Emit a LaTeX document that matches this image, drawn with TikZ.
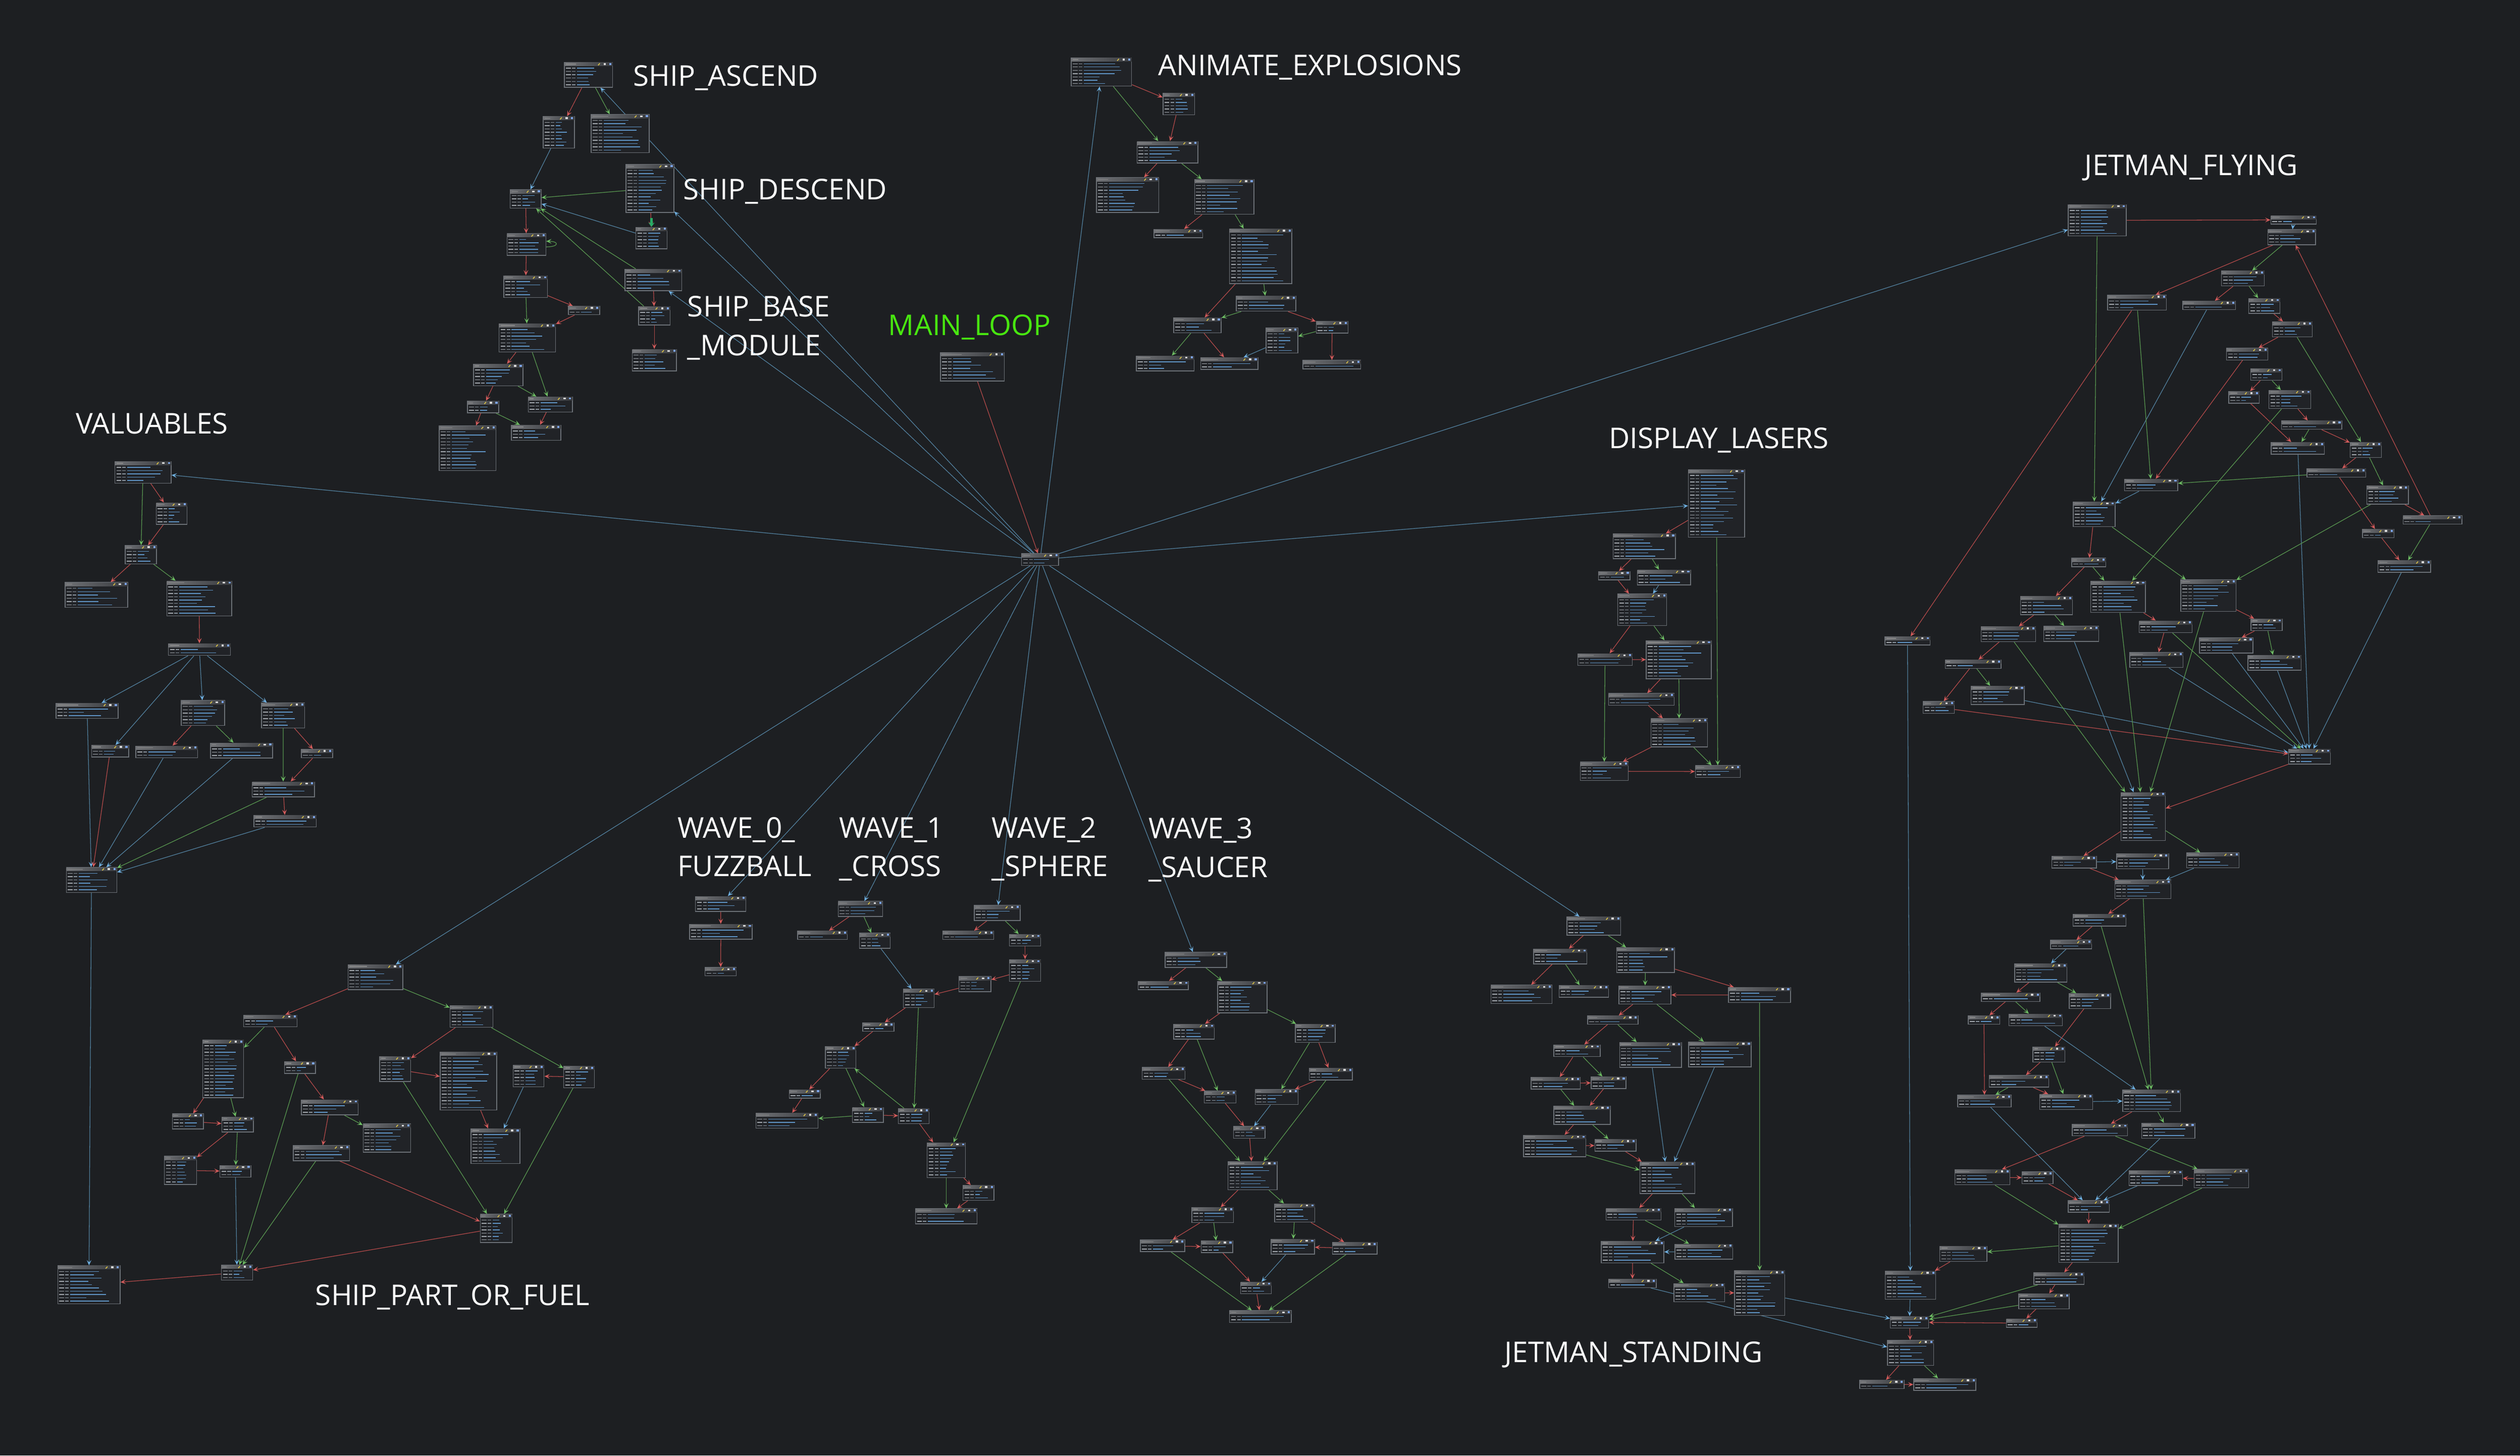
\documentclass[tikz,border=0pt]{standalone}
\usepackage{fontspec}
\setmainfont{Open Sans}
\usetikzlibrary{arrows.meta}

\definecolor{bgdark}{RGB}{29,31,34}
\definecolor{boxfill}{RGB}{33,35,39}
\definecolor{boxline}{RGB}{108,113,119}
\definecolor{hdrleft}{RGB}{112,114,118}
\definecolor{hdrright}{RGB}{56,58,62}
\definecolor{addrcol}{RGB}{165,170,176}
\definecolor{mnemcol}{RGB}{140,150,160}
\definecolor{opcol}{RGB}{96,150,200}
\definecolor{iconblue}{RGB}{125,165,235}
\definecolor{penyellow}{RGB}{225,200,70}
\definecolor{edgeblue}{RGB}{82,128,158}
\definecolor{edgered}{RGB}{178,74,74}
\definecolor{edgegreen}{RGB}{88,150,80}
\definecolor{tipblue}{RGB}{112,178,228}
\definecolor{tipred}{RGB}{212,92,92}
\definecolor{tipgreen}{RGB}{110,190,100}
\definecolor{loopgreen}{RGB}{72,230,16}
\definecolor{blobgreen}{RGB}{40,170,100}

\pgfdeclarelayer{background}
\pgfdeclarelayer{edgelayer}
\pgfsetlayers{background,edgelayer,main}

\tikzset{
  codebox/.style={draw=boxline, fill=boxfill, line width=0.45pt, inner sep=0pt, anchor=north west},
  hdrtext/.style={draw=white!55!black, line width=0.4pt},
  penicon/.style={draw=penyellow, line width=0.5pt},
  addrline/.style={draw=addrcol, line width=0.45pt},
  mnemline/.style={draw=mnemcol, line width=0.45pt},
  opline/.style={draw=opcol, line width=0.45pt},
  jmpedge/.style={-{Stealth[length=3.3pt,width=2.9pt,inset=1.5pt,color=tipblue]}, draw=edgeblue, line width=0.4pt},
  falseedge/.style={-{Stealth[length=3.3pt,width=2.9pt,inset=1.5pt,color=tipred]}, draw=edgered, line width=0.4pt},
  trueedge/.style={-{Stealth[length=3.3pt,width=2.9pt,inset=1.5pt,color=tipgreen]}, draw=edgegreen, line width=0.4pt},
  lbl/.style={text=white, font=\fontsize{17.8}{21}\selectfont, anchor=base west, inner sep=0pt},
}

% code block: name, x, y (top left), width, number of lines
\newcommand\codeblk[5]{%
  \pgfmathsetmacro\blkh{3.2+2.05*#5}%
  \node[codebox, minimum width=#4pt, minimum height=\blkh pt] (#1) at (#2,#3) {};
  \fill[left color=hdrleft, right color=hdrright] ([shift={(0.25pt,-0.25pt)}]#1.north west) rectangle ([shift={(-0.25pt,-2.4pt)}]#1.north east);
  \pgfmathsetmacro\hw{2+(#4-14)*0.45*rnd}%
  \draw[hdrtext] ([shift={(1.2pt,-1.3pt)}]#1.north west) -- ++(\hw pt,0);
  \draw[penicon] ([shift={(-9.2pt,-2.0pt)}]#1.north east) -- ++(1.1pt,1.2pt);
  \fill[white!85!black] ([shift={(-5.8pt,-0.7pt)}]#1.north east) rectangle ++(1.4pt,-1.1pt);
  \fill[iconblue] ([shift={(-2.3pt,-0.6pt)}]#1.north east) rectangle ++(1.3pt,-1.2pt);
  \foreach \i in {1,...,#5}{%
    \pgfmathsetmacro\ly{-1.8-2.05*\i}%
    \pgfmathsetmacro\lw{(#4-11)*(0.3+0.65*rnd)}%
    \draw[addrline] ([shift={(1.2pt,\ly pt)}]#1.north west) -- ++(3.0pt,0);
    \draw[mnemline] ([shift={(4.9pt,\ly pt)}]#1.north west) -- ++(2.2pt,0);
    \draw[opline] ([shift={(8.0pt,\ly pt)}]#1.north west) -- ++(\lw pt,0);
  }%
}

\begin{document}
\begin{tikzpicture}[x=1pt,y=-1pt]
  \pgfmathsetseed{7}
  \useasboundingbox (0,0) rectangle (1568,905.9);
  \begin{pgfonlayer}{background}
    \fill[bgdark] (0,0) rectangle (1568,905.9);
  \end{pgfonlayer}

  % main loop and switch
  \foreach \nm/\px/\py/\bw/\nlines in
{M/585.0/219.3/39.6/7,C/635.4/344.4/23.1/2}
    {\codeblk{\nm}{\px}{\py}{\bw}{\nlines}}

  % ship ascend / descend / base module
  \foreach \nm/\px/\py/\bw/\nlines in
{A1/351.0/38.6/29.9/6,A2/337.8/72.3/19.4/8,A3/367.6/71.1/36.1/10,D1/389.3/102.2/29.8/13,
 A4/317.2/117.9/19.3/4,D2/395.4/141.2/19.5/5,A5/315.2/145.2/24.2/5,A6/313.3/171.4/27.1/5,
 A7/353.4/190.4/19.5/1,B1/388.6/167.3/35.3/5,B2/397.1/190.6/19.6/4,B3/393.1/217.2/27.6/5,
 A8/310.3/201.3/35.1/7,A9/294.4/226.4/30.8/5,A10/290.6/249.4/19.5/2,A11/328.4/246.8/27.5/3,
 A12/273.1/264.9/35.2/12,A13/318.0/264.4/30.7/3}
    {\codeblk{\nm}{\px}{\py}{\bw}{\nlines}}

  % animate explosions
  \foreach \nm/\px/\py/\bw/\nlines in
{E1/666.3/35.8/37.6/7,E2/723.4/57.8/19.6/5,E3/707.2/87.8/37.9/5,E4/682.0/110.4/38.7/9,
 E5/743.0/111.5/37.0/9,E6/717.8/142.5/30.4/1,E7/764.8/142.3/38.8/15,E8/769.0/184.1/37.1/3,
 E9/730.1/197.6/29.5/3,E10/818.7/199.8/19.8/2,E11/787.5/204.0/19.8/6,E12/706.8/221.3/36.0/3,
 E13/746.8/222.4/35.7/2,E14/810.5/224.1/36.0/1}
    {\codeblk{\nm}{\px}{\py}{\bw}{\nlines}}

  % valuables
  \foreach \nm/\px/\py/\bw/\nlines in
{V1/71.2/287.0/35.1/5,V2/96.9/312.7/19.3/5,V3/77.7/339.3/19.5/4,V4/40.3/362.3/39.0/6,
 V5/103.5/361.4/40.5/9,V6/104.5/400.4/38.7/2,V7/34.7/437.5/38.6/3,V8/112.6/435.8/27.0/6,
 V9/162.5/437.3/26.9/6,V10/56.7/463.6/23.2/2,V11/84.3/464.1/38.5/2,V12/130.8/462.2/38.6/3,
 V13/187.3/466.2/19.4/1,V14/156.6/486.4/38.8/3,V15/157.8/507.2/38.8/2,V16/41.0/539.7/31.4/6}
    {\codeblk{\nm}{\px}{\py}{\bw}{\nlines}}

  % ship part or fuel
  \foreach \nm/\px/\py/\bw/\nlines in
{S1/216.3/600.2/34.1/6,S2/151.4/631.5/33.2/2,S3/279.8/625.7/26.7/5,S4/125.9/647.0/25.5/16,
 S5/176.8/660.5/19.3/2,S6/236.0/657.4/19.3/6,S7/273.7/654.6/35.2/16,S8/319.0/662.7/19.3/5,
 S9/350.5/663.3/19.2/5,S10/187.3/684.3/35.3/3,S11/107.0/693.0/19.3/3,S12/137.8/695.0/19.7/3,
 S13/225.7/699.3/29.6/7,S14/182.2/712.8/35.0/3,S15/292.8/702.3/30.5/9,S16/102.1/719.4/20.0/7,
 S17/136.6/725.1/19.3/2,S18/298.6/755.5/19.8/7,S19/137.5/787.2/19.5/3,S20/35.7/787.5/38.8/10}
    {\codeblk{\nm}{\px}{\py}{\bw}{\nlines}}

  % waves
  \foreach \nm/\px/\py/\bw/\nlines in
{W0a/432.5/557.7/31.3/3,W0b/428.8/575.0/39.0/3,W0c/438.5/601.9/19.4/1,
 W1a/521.3/560.8/27.6/3,W1b/496.0/579.2/31.0/1,W1c/534.6/580.6/19.1/3,W1d/561.9/615.4/19.1/4,
 W1e/536.6/636.3/19.4/1,W1f/513.3/651.1/19.1/5,W1g/490.8/678.0/19.4/1,W1h/470.1/692.6/38.7/3,
 W1i/530.1/689.0/19.3/3,W1j/558.8/689.7/19.1/3,W1k/576.7/711.0/23.7/9,W1l/598.9/737.5/19.4/3,
 W1m/569.4/752.1/38.3/3,W2a/606.0/563.3/28.5/3,W2b/586.4/579.2/31.6/1,W2c/627.9/581.3/19.4/2,
 W2d/627.9/597.0/19.4/5,W2e/596.4/607.6/19.9/3,
 W3a/724.7/592.5/38.4/3,W3b/707.9/610.5/31.3/1,W3c/757.4/610.5/30.7/8,W3d/730.1/637.2/25.3/3,
 W3e/805.7/637.2/24.8/4,W3f/710.4/664.1/26.8/2,W3g/814.3/664.6/27.0/2,W3h/749.1/678.9/19.7/2,
 W3i/780.7/677.9/26.7/3,W3j/767.3/700.9/19.6/2,W3k/763.9/722.7/30.5/7,W3l/741.4/751.3/25.9/3,
 W3m/792.9/749.0/25.0/4,W3n/709.3/771.5/27.6/2,W3o/747.1/772.1/19.7/2,W3p/790.7/771.0/27.0/3,
 W3q/828.8/773.0/27.8/2,W3r/771.6/797.7/19.3/2,W3s/764.8/815.5/38.4/2}
    {\codeblk{\nm}{\px}{\py}{\bw}{\nlines}}

  % jetman standing
  \foreach \nm/\px/\py/\bw/\nlines in
{J1/974.8/570.4/33.3/4,J2/954.0/590.4/33.2/3,J3/1005.6/589.6/36.1/6,J4/927.4/612.9/38.0/4,
 J5/969.9/613.1/30.7/2,J6/1007.1/613.3/32.4/4,J7/1075.3/614.3/38.6/3,J8/987.6/632.0/31.4/1,
 J9/1007.5/648.6/38.5/6,J10/1050.4/648.3/39.0/6,J11/966.6/650.1/28.8/2,J12/952.5/670.3/30.5/2,
 J13/989.8/670.0/21.7/2,J14/966.6/688.2/35.1/4,J15/947.7/706.3/38.8/5,J16/992.1/708.9/25.6/2,
 J17/1020.2/723.0/34.1/8,J18/999.0/751.8/34.3/2,J19/1041.8/751.8/35.9/4,J20/996.1/772.3/39.0/5,
 J21/1042.0/774.1/36.0/3,J22/1000.7/795.9/29.6/1,J23/1041.3/798.6/31.6/4,J24/1079.0/790.6/31.3/12}
    {\codeblk{\nm}{\px}{\py}{\bw}{\nlines}}

  % display lasers
  \foreach \nm/\px/\py/\bw/\nlines in
{L1/1050.3/292.0/35.0/19,L2/1003.4/332.0/38.9/6,L3/994.4/355.4/19.6/1,L4/1018.5/354.5/33.2/3,
 L5/1006.3/369.5/30.4/8,L6/981.5/406.6/33.9/2,L7/1024.1/398.5/40.5/10,L8/1000.6/431.4/40.9/2,
 L9/1027.0/447.1/35.2/7,L10/983.0/474.1/29.9/4,L11/1054.6/476.3/28.0/2}
    {\codeblk{\nm}{\px}{\py}{\bw}{\nlines}}

  % jetman flying
  \foreach \nm/\px/\py/\bw/\nlines in
{F1/1286.7/127.1/36.0/8,F2/1412.7/134.0/28.4/1,F3/1410.8/142.7/29.8/3,F4/1382.0/168.4/26.7/3,
 F5/1311.1/183.5/36.6/3,F6/1357.9/187.2/32.8/1,F7/1399.0/185.5/19.4/3,F8/1413.7/200.1/24.8/3,
 F9/1385.1/216.5/25.7/2,F10/1400.2/229.2/19.4/2,F11/1386.5/243.4/19.1/2,F12/1411.5/242.7/26.0/4,
 F13/1419.3/261.7/37.6/1,F14/1412.9/275.1/33.2/2,F15/1462.1/275.1/19.4/3,F16/1435.2/291.5/36.6/1,
 F17/1321.7/298.0/33.1/2,F18/1472.5/302.1/25.8/4,F19/1289.8/312.1/26.0/6,F20/1495.0/320.8/36.6/1,
 F21/1469.7/329.2/19.6/1,F22/1479.4/348.7/32.8/2,F23/1288.9/347.2/21.2/1,F24/1300.7/361.4/34.0/8,
 F25/1356.7/360.7/34.3/8,F26/1256.9/371.0/32.4/4,F27/1172.6/396.0/28.1/1,F28/1232.4/389.8/34.0/3,
 F29/1271.4/389.6/34.2/3,F30/1330.7/386.2/33.1/2,F31/1400.4/385.0/19.4/2,F32/1368.3/396.8/33.3/3,
 F33/1325.0/405.9/33.1/3,F34/1398.5/407.6/33.1/3,F35/1210.1/410.5/34.8/1,F36/1226.2/426.8/33.1/4,
 F37/1196.4/436.4/19.4/2,F38/1423.8/466.0/26.0/3,F39/1319.5/493.0/27.6/13,F40/1276.5/532.7/27.7/2,
 F41/1316.8/531.2/32.3/3,F42/1360.3/530.6/32.6/3,F43/1315.6/547.6/35.0/4,F44/1289.6/568.8/33.0/2,
 F45/1275.6/585.0/25.7/1,F46/1253.4/599.6/32.4/4,F47/1232.6/617.8/36.5/1,F48/1287.3/618.1/25.7/3,
 F49/1224.5/631.9/19.5/1,F50/1249.8/630.9/33.3/2,F51/1264.7/651.4/19.9/3,F52/1237.5/669.1/37.0/2,
 F53/1217.9/681.4/33.3/2,F54/1268.9/680.9/33.0/3,F55/1320.6/678.1/35.9/5,F56/1289.2/699.4/34.3/2,
 F57/1332.3/698.8/33.2/3,F58/1216.1/727.8/34.2/3,F59/1257.9/729.1/19.3/2,F60/1324.4/728.3/33.4/3,
 F61/1365.0/727.6/34.0/4,F62/1286.7/747.0/25.6/2,F63/1280.8/761.7/36.9/10,F64/1206.7/775.5/29.4/3,
 F65/1172.8/790.9/31.3/7,F66/1265.3/791.9/31.3/2,F67/1255.9/805.0/31.4/3,F68/1176.0/819.1/23.8/2,
 F69/1248.1/820.6/19.2/1,F70/1174.2/834.0/28.7/6,F71/1156.9/858.8/27.6/1,F72/1190.5/857.8/38.7/2}
    {\codeblk{\nm}{\px}{\py}{\bw}{\nlines}}

  \begin{pgfonlayer}{edgelayer}
    % unconditional flow
    \foreach \src/\tgt in
{C/A1,C/D1,C/B1,C/E1,C/F1,C/L1,C/V1,C/S1,C/W0a,C/W1a,C/W2a,C/W3a,C/J1,A2/A4,D2/A4,E11/E13,
 V6/V7,V6/V10,V6/V8,V6/V9,V7/V16,V11/V16,V12/V16,V15/V16,V16/S20,S8/S15,S17/S19,
 W1c/W1d,W3i/W3j,W3p/W3r,J9/J17,J10/J17,J19/J20,J21/J20,J22/F70,J24/F68,L4/L5,
 F2/F3,F6/F19,F17/F19,F29/F39,F32/F38,F33/F38,F34/F38,F36/F38,F14/F38,F22/F38,F27/F65,
 F40/F41,F41/F43,F42/F43,F45/F46,F50/F55,F54/F55,F53/F62,F57/F62,F60/F62,F65/F68}
      {\draw[jmpedge] (\src) -- (\tgt);}
    % branch not taken
    \foreach \src/\tgt in
{M/C,A1/A2,A4/A5,A5/A6,A6/A7,A7/A8,A8/A9,A9/A10,A10/A12,A11/A13,B1/B2,B2/B3,D1/D2,
 E1/E2,E2/E3,E3/E4,E5/E6,E7/E9,E8/E10,E10/E14,E9/E13,
 V1/V2,V2/V3,V3/V4,V5/V6,V8/V11,V9/V13,V13/V14,V14/V15,V10/V16,
 S1/S2,S2/S5,S3/S6,S4/S11,S5/S10,S6/S7,S9/S8,S7/S15,S10/S14,S11/S12,S12/S16,S16/S17,S14/S18,S18/S19,S19/S20,
 W0a/W0b,W0b/W0c,W1a/W1b,W1d/W1e,W1e/W1f,W1f/W1g,W1g/W1h,W1i/W1j,W1j/W1k,W2a/W2b,W2c/W2d,W2d/W2e,W2e/W1d,W1k/W1l,W1l/W1m,
 W3a/W3b,W3c/W3d,W3d/W3f,W3e/W3g,W3f/W3h,W3g/W3i,W3h/W3j,W3j/W3k,W3k/W3l,W3l/W3n,W3m/W3q,W3n/W3o,W3q/W3p,W3o/W3r,W3r/W3s,
 J1/J2,J2/J4,J3/J7,J7/J6,J6/J8,J8/J11,J11/J12,J12/J13,J13/J14,J14/J15,J15/J16,J16/J17,J17/J18,J18/J20,J20/J22,J23/J24,
 L1/L2,L2/L3,L3/L5,L5/L6,L6/L7,L7/L8,L8/L9,L9/L10,L10/L11,
 F1/F2,F3/F5,F4/F6,F7/F8,F8/F9,F9/F17,F10/F11,F11/F14,F12/F13,F13/F15,F15/F16,F16/F21,F18/F20,F20/F3,F21/F22,
 F5/F27,F19/F23,F23/F26,F24/F30,F25/F31,F26/F28,F28/F35,F30/F33,F31/F32,F35/F37,F37/F38,F38/F39,
 F39/F40,F40/F43,F43/F44,F44/F45,F46/F47,F47/F49,F48/F51,F49/F53,F51/F52,F52/F54,F55/F56,F56/F58,
 F58/F59,F59/F62,F61/F60,F62/F63,F63/F66,F64/F65,F66/F67,F67/F69,F69/F68,F68/F70,F70/F71,F71/F72}
      {\draw[falseedge] (\src) -- (\tgt);}
    % branch taken
    \foreach \src/\tgt in
{A1/A3,D1/A4,B1/A4,B2/A4,A6/A8,A8/A11,A9/A11,A10/A13,
 E1/E3,E3/E5,E5/E7,E7/E8,E8/E9,E10/E11,E9/E12,
 V1/V3,V3/V5,V8/V12,V9/V14,V14/V16,
 S1/S3,S2/S4,S3/S9,S4/S12,S5/S19,S6/S18,S9/S18,S10/S13,S12/S17,S14/S19,
 W1a/W1c,W1d/W1j,W1f/W1i,W1i/W1h,W1j/W1f,W2a/W2c,W2d/W1k,W1k/W1m,
 W3a/W3c,W3c/W3e,W3d/W3h,W3e/W3i,W3f/W3k,W3g/W3k,W3k/W3m,W3l/W3o,W3m/W3p,W3n/W3s,W3q/W3s,
 J1/J3,J2/J5,J3/J6,J7/J24,J6/J10,J8/J9,J11/J13,J12/J14,J14/J16,J15/J17,J17/J19,J18/J21,J20/J23,
 L1/L11,L2/L4,L5/L7,L6/L10,L7/L9,L9/L11,
 F1/F19,F3/F4,F4/F7,F8/F15,F10/F12,F12/F24,F13/F14,F15/F18,F16/F17,F18/F25,F20/F22,F5/F17,
 F19/F25,F23/F24,F24/F39,F25/F39,F26/F29,F28/F39,F30/F38,F31/F34,F35/F36,
 F39/F42,F43/F55,F44/F55,F46/F48,F47/F50,F51/F54,F52/F53,F55/F57,F56/F61,F58/F63,F61/F63,
 F63/F64,F66/F68,F67/F68,F70/F72}
      {\draw[trueedge] (\src) -- (\tgt);}
    \draw[trueedge] ([yshift=-1.5pt]A5.east) to[out=0,in=0,looseness=6] ([yshift=2pt]A5.east);
    \draw[draw=blobgreen, line width=1.8pt, -{Stealth[length=2.6pt,width=3.8pt]}]
      ([yshift=-3.2pt]D1.south -| D2.north) -- (D2.north);
  \end{pgfonlayer}

  % case labels
  \node[lbl] (tA) at (393.9,53.5) {SHIP\_ASCEND};
  \node[lbl] (tD) at (425.0,124.2) {SHIP\_DESCEND};
  \node[lbl] (tB1) at (427.6,197.1) {SHIP\_BASE};
  \node[lbl] (tB2) at (427.6,221.3) {\_MODULE};
  \node[lbl, text=loopgreen] (tM) at (552.6,208.6) {MAIN\_LOOP};
  \node[lbl] (tE) at (720.5,46.9) {ANIMATE\_EXPLOSIONS};
  \node[lbl] (tF) at (1297.0,109.0) {JETMAN\_FLYING};
  \node[lbl] (tV) at (47.0,270.0) {VALUABLES};
  \node[lbl] (tL) at (1001.0,279.0) {DISPLAY\_LASERS};
  \node[lbl] (tW0a) at (421.5,521.5) {WAVE\_0\_};
  \node[lbl] (tW0b) at (421.5,545.5) {FUZZBALL};
  \node[lbl] (tW1a) at (522.0,521.5) {WAVE\_1};
  \node[lbl] (tW1b) at (522.0,545.5) {\_CROSS};
  \node[lbl] (tW2a) at (617.0,521.5) {WAVE\_2};
  \node[lbl] (tW2b) at (617.0,545.5) {\_SPHERE};
  \node[lbl] (tW3a) at (714.5,522.0) {WAVE\_3};
  \node[lbl] (tW3b) at (714.5,546.0) {\_SAUCER};
  \node[lbl] (tS) at (196.1,812.5) {SHIP\_PART\_OR\_FUEL};
  \node[lbl] (tJ) at (936.0,848.0) {JETMAN\_STANDING};
\end{tikzpicture}
\end{document}
